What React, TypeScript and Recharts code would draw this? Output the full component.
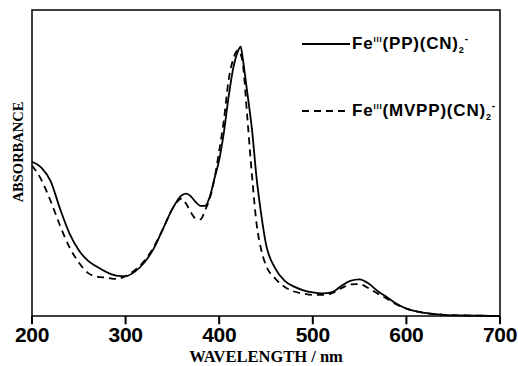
import React from 'react';
import { LineChart, Line, XAxis, YAxis, ReferenceArea, ReferenceLine } from 'recharts';

const wavelengths = [
  200, 210, 220, 230, 240, 250, 260, 270, 280, 290,
  300, 310, 320, 330, 340, 350, 360, 365, 370, 375,
  380, 385, 390, 395, 400, 405, 410, 415, 420, 423,
  425, 430, 435, 440, 445, 450, 460, 470, 480, 490,
  500, 510, 520, 530, 540, 550, 560, 570, 580, 590,
  600, 620, 640, 660, 680, 700,
];

// Fe(III)(PP)(CN)2- (solid)
const ppAbsorbance = [
  0.504, 0.485, 0.44, 0.35, 0.27, 0.215, 0.18, 0.16, 0.143, 0.132,
  0.13, 0.145, 0.175, 0.22, 0.285, 0.35, 0.395, 0.4, 0.39, 0.372,
  0.36, 0.36, 0.39, 0.45, 0.51, 0.6, 0.715, 0.81, 0.865, 0.88,
  0.845, 0.73, 0.61, 0.45, 0.33, 0.235, 0.155, 0.115, 0.096, 0.084,
  0.077, 0.074, 0.077, 0.097, 0.115, 0.12, 0.105, 0.08, 0.06, 0.039,
  0.024, 0.01, 0.004, 0.002, 0.001, 0,
];

// Fe(III)(MVPP)(CN)2- (dashed)
const mvppAbsorbance = [
  0.492, 0.445, 0.375, 0.295, 0.225, 0.175, 0.14, 0.128, 0.125, 0.121,
  0.13, 0.15, 0.18, 0.225, 0.285, 0.35, 0.384, 0.365, 0.337, 0.318,
  0.316, 0.346, 0.385, 0.45, 0.54, 0.64, 0.77, 0.84, 0.868, 0.855,
  0.83, 0.65, 0.46, 0.3, 0.215, 0.165, 0.122, 0.095, 0.08, 0.073,
  0.069, 0.069, 0.074, 0.09, 0.103, 0.104, 0.09, 0.072, 0.055, 0.037,
  0.024, 0.01, 0.004, 0.002, 0.001, 0,
];

const xTicks = [200, 300, 400, 500, 600, 700];

const data = wavelengths.map((w, i) => ({
  w,
  pp: ppAbsorbance[i],
  mvpp: mvppAbsorbance[i],
}));

const sans = '"Liberation Sans", Arial, sans-serif';
const serif = '"Liberation Serif", "Times New Roman", serif';

const XTick = (props: any) => {
  const { x, y, payload } = props;
  return (
    <text x={x} y={y} dy="0.71em" textAnchor="middle" fontFamily={sans} fontWeight={700}
      fontSize={21} letterSpacing={-0.3} fill="#000">
      {payload.value}
    </text>
  );
};

const LegendRow = ({ dashed, ligand, top }: { dashed: boolean; ligand: string; top: number }) => (
  <div style={{ position: 'absolute', left: 302, top, display: 'flex', alignItems: 'center', height: 24 }}>
    <svg width={48} height={4} style={{ marginRight: 2 }}>
      <line x1={0} y1={2} x2={48} y2={2} stroke="#000" strokeWidth={1.8} strokeDasharray={dashed ? '7 5' : undefined} />
    </svg>
    <span style={{ fontFamily: sans, fontWeight: 700, fontSize: 17, letterSpacing: 0.8, color: '#000', whiteSpace: 'nowrap' }}>
      Fe<sup style={{ fontSize: 8 }}>III</sup>({ligand})(CN)<sub style={{ fontSize: 9 }}>2</sub>
      <sup style={{ fontSize: 10 }}>-</sup>
    </span>
  </div>
);

export default function App() {
  return (
    <div style={{ position: 'absolute', left: 0, top: 0, width: 518, height: 366, background: '#fff' }}>
      <LineChart width={518} height={366} data={data} margin={{ top: 10, right: 18, left: 32, bottom: 0 }}>
        <XAxis
          dataKey="w"
          type="number"
          domain={[200, 700]}
          ticks={xTicks}
          height={50}
          axisLine={false}
          tickLine={false}
          tickSize={8}
          tickMargin={3}
          tick={<XTick />}
          label={{ value: 'WAVELENGTH / nm', position: 'insideBottom', offset: 4, fontFamily: serif, fontWeight: 700, fontSize: 16.5, fill: '#000' }}
        />
        <YAxis type="number" domain={[0, 1]} hide />
        <ReferenceArea x1={200} x2={700} y1={0} y2={1} fill="none" stroke="#000" strokeWidth={1.5} />
        {/* short outward tick marks under the frame */}
        {xTicks.map((t) => (
          <ReferenceLine
            key={t}
            segment={[{ x: t, y: 0 }, { x: t, y: -0.027 }]}
            ifOverflow="visible"
            stroke="#000"
            strokeWidth={2}
          />
        ))}
        <Line type="monotone" dataKey="pp" stroke="#000" strokeWidth={1.8} dot={false} isAnimationActive={false} />
        <Line type="monotone" dataKey="mvpp" stroke="#000" strokeWidth={1.8} strokeDasharray="7 5" dot={false}
          isAnimationActive={false} />
      </LineChart>
      <div style={{
        position: 'absolute', left: 18, top: 152, transform: 'translate(-50%, -50%) rotate(-90deg)',
        fontFamily: serif, fontWeight: 700, fontSize: 14.5, color: '#000', whiteSpace: 'nowrap',
      }}>
        ABSORBANCE
      </div>
      <LegendRow dashed={false} ligand="PP" top={32} />
      <LegendRow dashed ligand="MVPP" top={99} />
    </div>
  );
}
